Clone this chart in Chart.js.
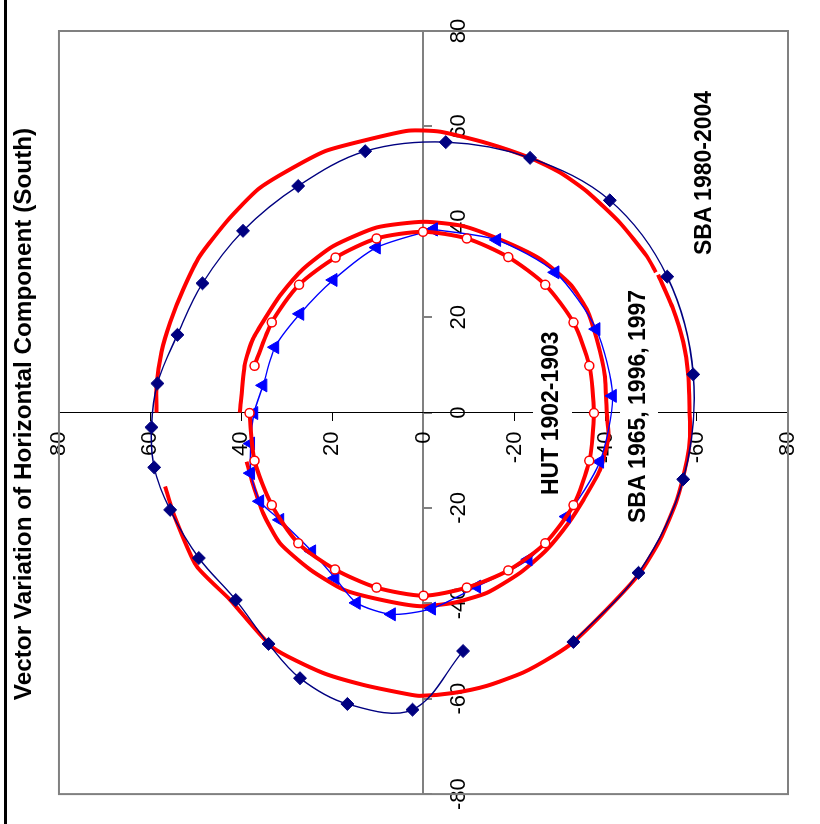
<!DOCTYPE html>
<html>
<head>
<meta charset="utf-8">
<script src="https://cdn.jsdelivr.net/npm/chart.js@4"></script>
<style>
html, body { margin:0; padding:0; background:#fff; overflow:hidden; }
body { width:820px; height:824px; position:relative; }
#edge { position:absolute; left:4px; top:0; width:3px; height:824px; background:#000; }
/* the chart is laid out upright, then turned a quarter turn to the left */
#frame { position:absolute; left:0; top:0; width:824px; height:820px;
         transform-origin:0 0; transform:translate(0, 824px) rotate(-90deg); }
#frame canvas { position:absolute; left:0; top:0; }
.tag { position:absolute; font:bold 23px "Liberation Sans", Arial, sans-serif; line-height:23px;
       white-space:nowrap; color:#000; background:#fff; }
</style>
</head>
<body>
<div id="edge"></div>
<div id="frame">
  <canvas id="vectorChart" width="824" height="820"></canvas>
  <div class="tag" style="left:566px; top:692px; padding:0 3px;">SBA 1980-2004</div>
  <div class="tag" style="left:298px; top:620px; padding:6px 3px 9px;">SBA 1965, 1996, 1997</div>
  <div class="tag" style="left:326px; top:533px; padding:6px 3px 10px;">HUT 1902-1903</div>
</div>
<script>
// ---------------------------
// Data
// ---------------------------
const axisTicks = [-80, -60, -40, -20, 0, 20, 40, 60, 80];

// SBA 1980-2004 observations (navy diamonds)
const sba8004X = [-48.1, -33.6, -14.0, 8.0, 28.5, 44.5, 53.4, 56.7, 54.8, 47.5, 38.1, 27.1, 16.3, 6.1, -3.1, -11.5, -20.4, -30.5, -39.3, -48.5, -55.7, -61.1, -62.3, -50.0];
const sba8004Y = [-32.9, -47.2, -57.0, -59.2, -53.5, -40.9, -23.4, -4.9, 12.8, 27.5, 39.6, 48.5, 54.0, 58.4, 59.7, 59.1, 55.6, 49.3, 41.2, 34.0, 27.1, 16.7, 2.4, -8.7];

// outer model curve, two pieces
const outerAX = [0, 5.7, 12.7, 18.9, 25.9, 32.8, 40.5, 46.8, 50.6, 54.8, 57.0, 59.1, 58.9, 56.5, 53.4, 50.3, 46.4, 39.8, 32.8, 29.4];
const outerAY = [58.6, 58.6, 57.5, 55.6, 52.7, 49.1, 42.8, 36.3, 30.0, 21.6, 13.2, 3.3, -3.6, -13.9, -23.4, -30.0, -35.8, -43.1, -49.0, -51.0];
const outerBX = [28.9, 21.7, 14.8, 7.8, 0, -5.1, -10.0, -18.3, -26.7, -34.0, -41.3, -48.1, -51.0, -54.5, -57.3, -58.8, -59.4, -59.0, -57.1, -54.5, -49.3, -39.2, -32.2, -21.1, -15.5];
const outerBY = [-51.5, -54.8, -57.0, -58.1, -58.4, -58.5, -57.8, -55.6, -51.9, -47.2, -40.2, -32.9, -28.5, -21.9, -13.9, -6.5, 0.8, 3.7, 13.2, 22.3, 33.0, 42.5, 49.8, 54.9, 56.7];

// inner model curve
const innerX = [0, 10.2, 15.5, 20.3, 24.5, 30.1, 34.9, 38.8, 40.0, 39.1, 36.0, 32.2, 26.9, 21.7, 15.5, 7.8, 0, -5.1, -12.1, -18.3, -23.2, -28.8, -33.6, -37.8, -39.9, -40.6, -39.2, -37.1, -32.9, -27.4, -21.1, -14.8, -10.3];
const innerY = [40.3, 39.2, 37.4, 34.4, 31.5, 26.4, 19.8, 10.3, 0.0, -8.7, -17.5, -25.6, -32.2, -35.8, -38.0, -39.8, -40.2, -40.6, -38.7, -35.1, -31.8, -27.0, -21.2, -13.9, -6.5, 0.8, 9.6, 17.6, 24.9, 31.5, 35.2, 37.5, 38.8];

// SBA 1965, 1996, 1997 (red open circles)
const sba65X = [-0.1, -10.1, -19.4, -27.4, -32.9, -36.7, -38.4, -36.7, -33.1, -27.4, -19.4, -10.1, -0.1, 9.8, 18.9, 26.8, 32.6, 36.5, 37.9, 36.5, 32.5, 26.8, 18.9, 9.8];
const sba65Y = [38.2, 37.1, 33.3, 27.5, 19.4, 10.3, 0.0, -9.5, -18.6, -26.7, -32.9, -36.4, -37.4, -36.4, -32.9, -26.7, -18.6, -9.5, 0.1, 10.3, 19.3, 27.3, 33.3, 37.1];

// HUT 1902-1903 (blue triangles)
const hutX = [38.4, 36.2, 29.4, 17.5, 3.5, -10.3, -21.8, -30.8, -36.5, -41.1, -42.3, -39.9, -34.7, -29.1, -22.5, -18.6, -12.7, -6.5, -0.1, 5.7, 13.7, 20.7, 27.8, 34.6, 38.4];
const hutY = [-2.2, -16.1, -28.9, -37.9, -41.5, -38.7, -31.4, -23.0, -11.7, -1.8, 7.0, 14.7, 19.4, 24.5, 31.5, 35.9, 37.9, 37.9, 37.2, 35.2, 32.6, 27.1, 19.8, 10.3, -2.2];

const FONT = '"Liberation Sans", Arial, sans-serif';
const Y_LABEL_GAP = 19;   // tick length + padding, left of the centred y axis

function pts(xs, ys){ return xs.map((x, i) => ({ x, y: ys[i] })); }

function redCurve(xs, ys, order){
  return { data: pts(xs, ys), showLine:true, borderColor:'#ff0000', borderWidth:4,
           pointRadius:0, tension:0.2, borderJoinStyle:'round', order };
}

// grey frame round the plot area
const plotFrame = {
  id:'plotFrame',
  beforeDatasetsDraw(chart){
    const { ctx, chartArea:a } = chart;
    ctx.save();
    ctx.strokeStyle = '#808080'; ctx.lineWidth = 2;
    ctx.strokeRect(a.left, a.top, a.right - a.left, a.bottom - a.top);
    ctx.restore();
  }
};

// a y axis pinned to x=0 puts its labels right on the line; push them off it
const yLabelGap = {
  id:'yLabelGap',
  afterUpdate(chart){
    const items = chart.scales.y.getLabelItems();
    items.forEach(it => {
      if (it.options && it.options.translation && !it._moved){
        it.options.translation[0] -= Y_LABEL_GAP; it._moved = true;
      }
    });
  }
};

new Chart(document.getElementById('vectorChart'), {
  type:'scatter',
  data:{
    datasets:[
      { data: pts(sba8004X, sba8004Y), showLine:true, borderColor:'#000080', borderWidth:1.4,
        pointStyle:'rectRot', pointRadius:6.5, pointBackgroundColor:'#000080', pointBorderColor:'#000080',
        pointBorderWidth:1, tension:0.35, order:1 },
      { data: pts(sba65X, sba65Y), showLine:true, borderColor:'#ff0000', borderWidth:4,
        pointStyle:'circle', pointRadius:4.5, pointBackgroundColor:'#fff', pointBorderColor:'#ff0000',
        pointBorderWidth:1.5, tension:0.25, order:2 },
      { data: pts(hutX, hutY), showLine:true, borderColor:'#0000ff', borderWidth:1.4,
        pointStyle:'triangle', pointRadius:7.5, pointBackgroundColor:'#0000ff', pointBorderColor:'#0000ff',
        pointBorderWidth:1, tension:0.25, order:3 },
      redCurve(outerAX, outerAY, 4),
      redCurve(outerBX, outerBY, 5),
      redCurve(innerX, innerY, 6)
    ]
  },
  options:{
    responsive:false, animation:false,
    layout:{ padding:{ left:27, right:31, top:0, bottom:32 } },
    plugins:{
      legend:{ display:false },
      tooltip:{ enabled:false },
      title:{ display:true, text:'Vector Variation of Horizontal Component (South)', color:'#000',
              font:{ family:FONT, size:24.3, weight:'bold' }, padding:{ top:10, bottom:19.8 } }
    },
    scales:{
      x:{
        type:'linear', position:{ y:0 }, min:-80, max:80,
        afterFit(s){ s.height = 0; },
        afterBuildTicks(s){ s.ticks = axisTicks.map(v => ({ value:v })); },
        grid:{ drawOnChartArea:false, drawTicks:true, tickLength:8, color:'#808080', lineWidth:2 },
        border:{ display:true, color:'#808080', width:2 },
        ticks:{ color:'#000', font:{ family:FONT, size:22 }, padding:14, maxRotation:0, autoSkip:false }
      },
      y:{
        type:'linear', position:{ x:0 }, min:-80, max:80,
        afterFit(s){ s.width = 0; },
        afterBuildTicks(s){ s.ticks = axisTicks.map(v => ({ value:v })); },
        grid:{ drawOnChartArea:false, drawTicks:true, tickLength:8, color:'#000', lineWidth:1 },
        border:{ display:true, color:'#000', width:1 },
        ticks:{ color:'#000', font:{ family:FONT, size:22 }, padding:11, autoSkip:false }
      }
    }
  },
  plugins:[plotFrame, yLabelGap]
});
</script>
</body>
</html>
